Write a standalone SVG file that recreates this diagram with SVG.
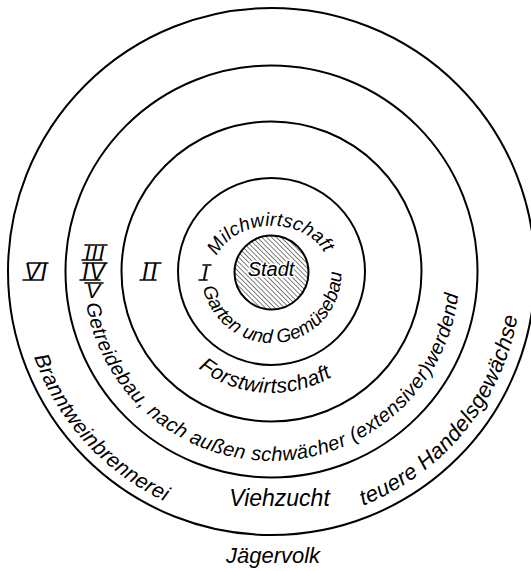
<svg xmlns="http://www.w3.org/2000/svg" width="531" height="571" viewBox="0 0 531 571">
<style>
.ring{fill:none;stroke:#000;stroke-width:2}
.t{font-family:"Liberation Sans",Arial,sans-serif;font-style:italic;fill:#000}
.bar{stroke:#000;stroke-width:1.6;stroke-linecap:round}
</style>
<defs>
<pattern id="hatch" width="3.4" height="3.4" patternUnits="userSpaceOnUse" patternTransform="rotate(-45)">
<rect width="3.4" height="3.4" fill="#fff"/>
<line x1="0" y1="0" x2="0" y2="3.4" stroke="#000" stroke-width="1"/>
</pattern>
<path id="pMilch" d="M217,256 A58,46 0 0 1 326,256"/>
<path id="pGarten" d="M203,287.6 A70,70 0 0 0 341.4,269.9"/>
<path id="pForst" d="M198.4,368.2 A120,120 0 0 0 333.3,375.9"/>
<path id="pGetreide" d="M86.1,304 A188,188 0 0 0 458.8,289.4"/>
<path id="pBrannt" d="M34,357.1 A252,252 0 0 0 169,503.2"/>
<path id="pHandel" d="M363.1,505.6 A250,250 0 0 0 518.4,312.1"/>
</defs>
<rect width="531" height="571" fill="#fff"/>
<g id="rings">
<circle id="ring-VI" class="ring" cx="271.5" cy="271.5" r="263.5"/>
<circle id="ring-III-V" class="ring" cx="271.5" cy="271.5" r="206"/>
<circle id="ring-II" class="ring" cx="271.5" cy="271.5" r="150"/>
<circle id="ring-I" class="ring" cx="271.5" cy="271.5" r="93.5"/>
</g>
<g id="stadt">
<circle cx="271.5" cy="272.5" r="37" fill="url(#hatch)" stroke="#000" stroke-width="2"/>
<text class="t" x="271" y="276" font-size="20" text-anchor="middle" stroke="#fff" stroke-width="3" paint-order="stroke" stroke-linejoin="round">Stadt</text>
</g>
<g id="zone-I">
<text class="t" font-size="19"><textPath href="#pMilch" textLength="128" lengthAdjust="spacing">Milchwirtschaft</textPath></text>
<text class="t" font-size="19"><textPath href="#pGarten" textLength="206" lengthAdjust="spacing">Garten und Gemüsebau</textPath></text>
<text class="t" x="205" y="280" font-size="21" text-anchor="middle">I</text>
<line class="bar" x1="203" y1="265" x2="211" y2="265"/>
<line class="bar" x1="199" y1="280" x2="207" y2="280"/>
</g>
<g id="zone-II">
<text class="t" font-size="21"><textPath href="#pForst" textLength="142" lengthAdjust="spacing">Forstwirtschaft</textPath></text>
<text class="t" x="150.5" y="280" font-size="23" text-anchor="middle" letter-spacing="2">II</text>
<line class="bar" x1="145" y1="263" x2="161" y2="263"/>
<line class="bar" x1="140" y1="280" x2="156" y2="280"/>
</g>
<g id="zone-III-V">
<text class="t" font-size="20"><textPath href="#pGetreide" textLength="538" lengthAdjust="spacing">Getreidebau, nach außen schwächer (extensiver)werdend</textPath></text>
<text class="t" x="95" y="260" font-size="21" text-anchor="middle" letter-spacing="1">III</text>
<line class="bar" x1="85" y1="245" x2="107" y2="245"/>
<line class="bar" x1="82" y1="260" x2="102" y2="260"/>
<text class="t" x="94" y="280" font-size="23" text-anchor="middle" letter-spacing="1">IV</text>
<line class="bar" x1="83" y1="263" x2="107" y2="263"/>
<line class="bar" x1="80" y1="280" x2="100" y2="280"/>
<text class="t" x="93" y="298" font-size="21" text-anchor="middle">V</text>
<line class="bar" x1="85" y1="283" x2="103" y2="283"/>
</g>
<g id="zone-VI">
<text class="t" font-size="21"><textPath href="#pBrannt" textLength="200" lengthAdjust="spacing">Branntweinbrennerei</textPath></text>
<text class="t" x="279.5" y="506" font-size="23" text-anchor="middle">Viehzucht</text>
<text class="t" font-size="22"><textPath href="#pHandel" textLength="255" lengthAdjust="spacing">teuere Handelsgewächse</textPath></text>
<text class="t" x="36" y="280" font-size="23" text-anchor="middle" letter-spacing="1">VI</text>
<line class="bar" x1="28" y1="263" x2="48" y2="263"/>
<line class="bar" x1="23" y1="280" x2="43" y2="280"/>
</g>
<g id="outside">
<text class="t" x="273" y="563" font-size="22" text-anchor="middle">Jägervolk</text>
</g>
</svg>
